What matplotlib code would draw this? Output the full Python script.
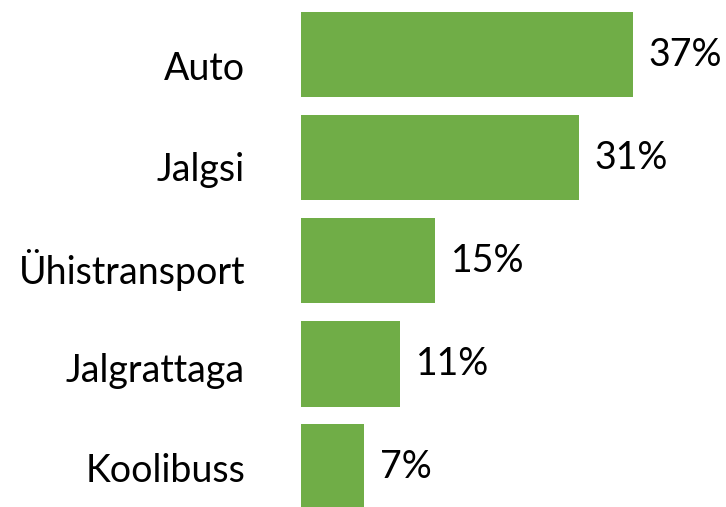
import matplotlib
matplotlib.use("Agg")
import matplotlib.pyplot as plt

categories = ['Auto', 'Jalgsi', 'Ühistransport', 'Jalgrattaga', 'Koolibuss']
shares = [37, 31, 15, 11, 7]

plt.rcParams['font.family'] = ['Lato', 'DejaVu Sans']

W, H = 726, 507
fig = plt.figure(figsize=(W / 100, H / 100), dpi=100)
ax = fig.add_axes([301 / W, 0, 1 - 301 / W, 1])

ypos = list(range(len(categories)))
ax.barh(ypos, shares, height=0.83, color='#70ad47')

for y, v in zip(ypos, shares):
    ax.annotate(f"{v}%", (v, y), xytext=(11.5, 0), textcoords='offset points',
                ha='left', va='center', fontsize=27, color='black')

ax.set_xlim(0, 47.4)
ax.set_ylim(4.39, -0.53)
ax.axis('off')

# category names sit on their own, slightly tighter spaced axis
lab = fig.add_axes([0, 0, 245 / W, 1])
for y, name in zip(ypos, categories):
    lab.text(1, y, name, transform=lab.get_yaxis_transform(), ha='right',
             va='center', fontsize=27, color='black')
lab.set_ylim(4.358, -0.687)
lab.axis('off')

fig.savefig('out.png', dpi=100)
